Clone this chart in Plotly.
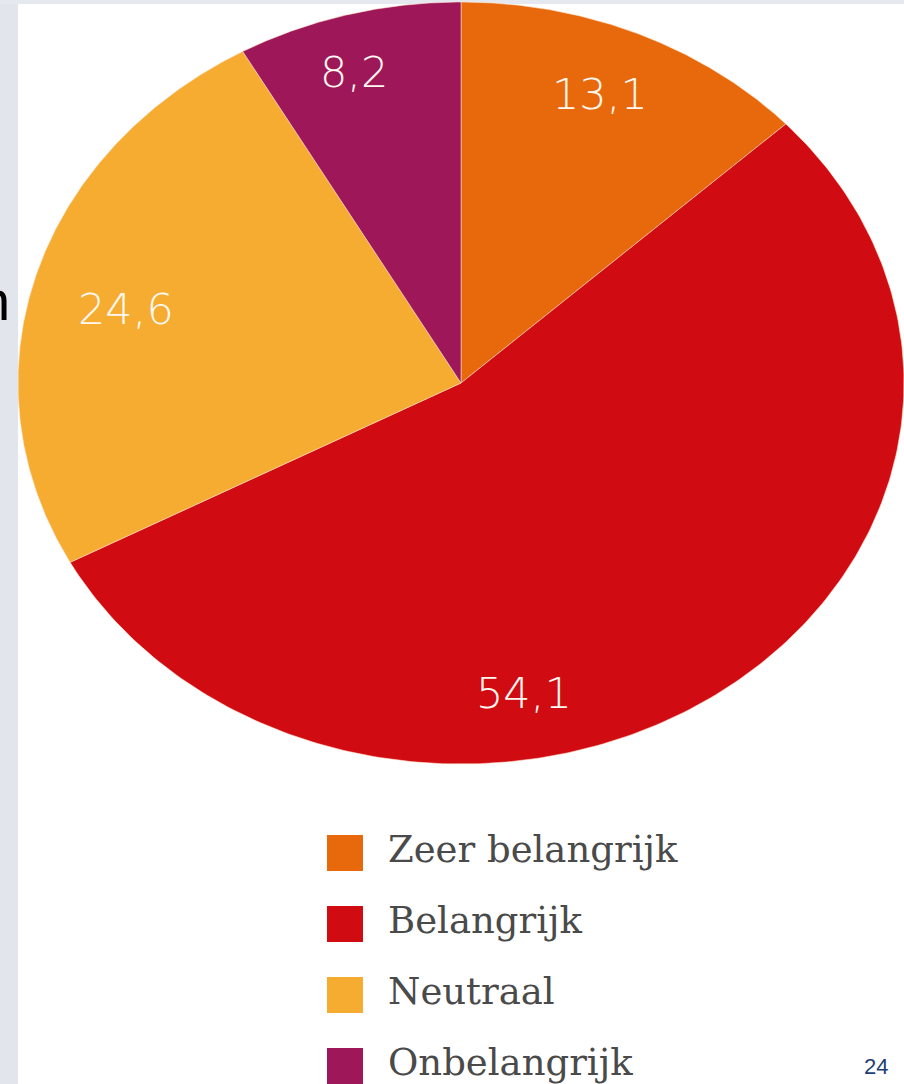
import numpy as np
import plotly.graph_objects as go

# ---- data ----
categories = ["Zeer belangrijk", "Belangrijk", "Neutraal", "Onbelangrijk"]
values = [13.1, 54.1, 24.6, 8.2]
value_labels = ["13,1", "54,1", "24,6", "8,2"]
colors = ["#E8690B", "#D10B12", "#F5AC30", "#9E1759"]

# ---- layout constants (pixel space) ----
W, H = 904, 1084
CX, CY, RX, RY = 461, 383, 443, 381
# label placement (angle deg clockwise from top, radius fraction)
LABEL_POLAR = [(22.5, 0.82), (170.0, 0.825), (284.5, 0.78), (343.5, 0.85)]
LEG_X, LEG_Y0, LEG_DY = 345, 853, 71

fig = go.Figure()

total = sum(values)
start = 0.0
for cat, v, col in zip(categories, values, colors):
    a0 = start / total * 2 * np.pi
    a1 = (start + v) / total * 2 * np.pi
    t = np.linspace(a0, a1, 240)
    xs = np.concatenate([[CX], CX + RX * np.sin(t), [CX]])
    ys = np.concatenate([[CY], CY - RY * np.cos(t), [CY]])
    fig.add_trace(go.Scatter(
        x=xs, y=ys, mode="lines", fill="toself", fillcolor=col,
        line=dict(color="rgba(255,225,200,0.55)", width=1),
        hoverinfo="skip", showlegend=False, name=cat))
    start += v

# value labels
for lab, (ang, rf) in zip(value_labels, LABEL_POLAR):
    a = np.deg2rad(ang)
    fig.add_annotation(
        x=CX + rf * RX * np.sin(a), y=CY - rf * RY * np.cos(a),
        text=lab, showarrow=False, xref="x", yref="y",
        font=dict(family="DejaVu Sans", size=43, color="#FFF8F0", weight=300))

# legend
leg_y = [LEG_Y0 + i * LEG_DY for i in range(len(categories))]
fig.add_trace(go.Scatter(
    x=[LEG_X] * len(categories), y=leg_y, mode="markers",
    marker=dict(symbol="square", size=36, color=colors, line=dict(width=0)),
    hoverinfo="skip", showlegend=False))
fig.add_trace(go.Scatter(
    x=[LEG_X + 43] * len(categories), y=leg_y, mode="text",
    text=categories, textposition="middle right",
    textfont=dict(family="DejaVu Serif", size=37, color="#4A4A4A"),
    hoverinfo="skip", showlegend=False))

# slide background fragments
fig.add_shape(type="rect", xref="paper", yref="paper", x0=0, x1=18 / W, y0=0, y1=1,
              fillcolor="#E2E5EC", line=dict(width=0), layer="below")
fig.add_shape(type="rect", xref="paper", yref="paper", x0=0, x1=1, y0=1 - 4 / H, y1=1,
              fillcolor="#E5E8EF", line=dict(width=0), layer="below")
fig.add_annotation(x=12, y=300, xref="x", yref="y", text="n", showarrow=False,
                   xanchor="right", font=dict(family="Liberation Sans", size=56, color="black"))
fig.add_annotation(x=876, y=1066, xref="x", yref="y", text="24", showarrow=False,
                   font=dict(family="Liberation Sans", size=22, color="#1F3F74"))

fig.update_layout(
    width=W, height=H, margin=dict(l=0, r=0, t=0, b=0),
    paper_bgcolor="white", plot_bgcolor="rgba(0,0,0,0)",
    xaxis=dict(range=[0, W], visible=False, fixedrange=True),
    yaxis=dict(range=[H, 0], visible=False, fixedrange=True),
    showlegend=False,
)
fig.write_html("out.html", config={"displayModeBar": False},
               post_script="document.body.style.margin='0';document.body.style.overflow='hidden';")
